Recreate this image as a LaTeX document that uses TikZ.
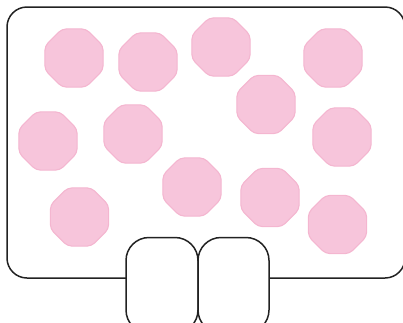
\documentclass[tikz,border=0pt]{standalone}
\usetikzlibrary{shapes.geometric}
\definecolor{pinkfill}{HTML}{F7C5DB}
\definecolor{pinkline}{HTML}{F4B6D0}
\definecolor{ink}{HTML}{222222}
\begin{document}
\begin{tikzpicture}[x=1pt,y=-1pt,
  oct/.style={regular polygon, regular polygon sides=8, inner sep=0pt,
    minimum size=63pt, fill=pinkfill, draw=pinkline, line width=1.1pt,
    rounded corners=4.5pt},
  frame/.style={draw=ink, line width=1.5pt, rounded corners=20pt},
  slot/.style={draw=ink, fill=white, line width=1.5pt, rounded corners=23pt}]
\useasboundingbox (0,0) rectangle (403,322);
\begin{scope}
\clip (0,0) rectangle (403,322);
\draw[frame] (7,7) rectangle (405,278);
\node[oct] (o1) at (74,58) {};
\node[oct] (o2) at (148,62) {};
\node[oct] (o3) at (221,47) {};
\node[oct] (o4) at (333,58) {};
\node[oct] (o5) at (266,104.5) {};
\node[oct] (o6) at (48,141) {};
\node[oct] (o7) at (133,134) {};
\node[oct] (o8) at (342,137) {};
\node[oct] (o9) at (192,187) {};
\node[oct] (o10) at (270,197.5) {};
\node[oct] (o11) at (79.5,217) {};
\node[oct] (o12) at (337.5,224.5) {};
\draw[slot] (126,237.5) rectangle (198,333);
\draw[slot] (198,237.5) rectangle (269,333);
\end{scope}
\end{tikzpicture}
\end{document}
